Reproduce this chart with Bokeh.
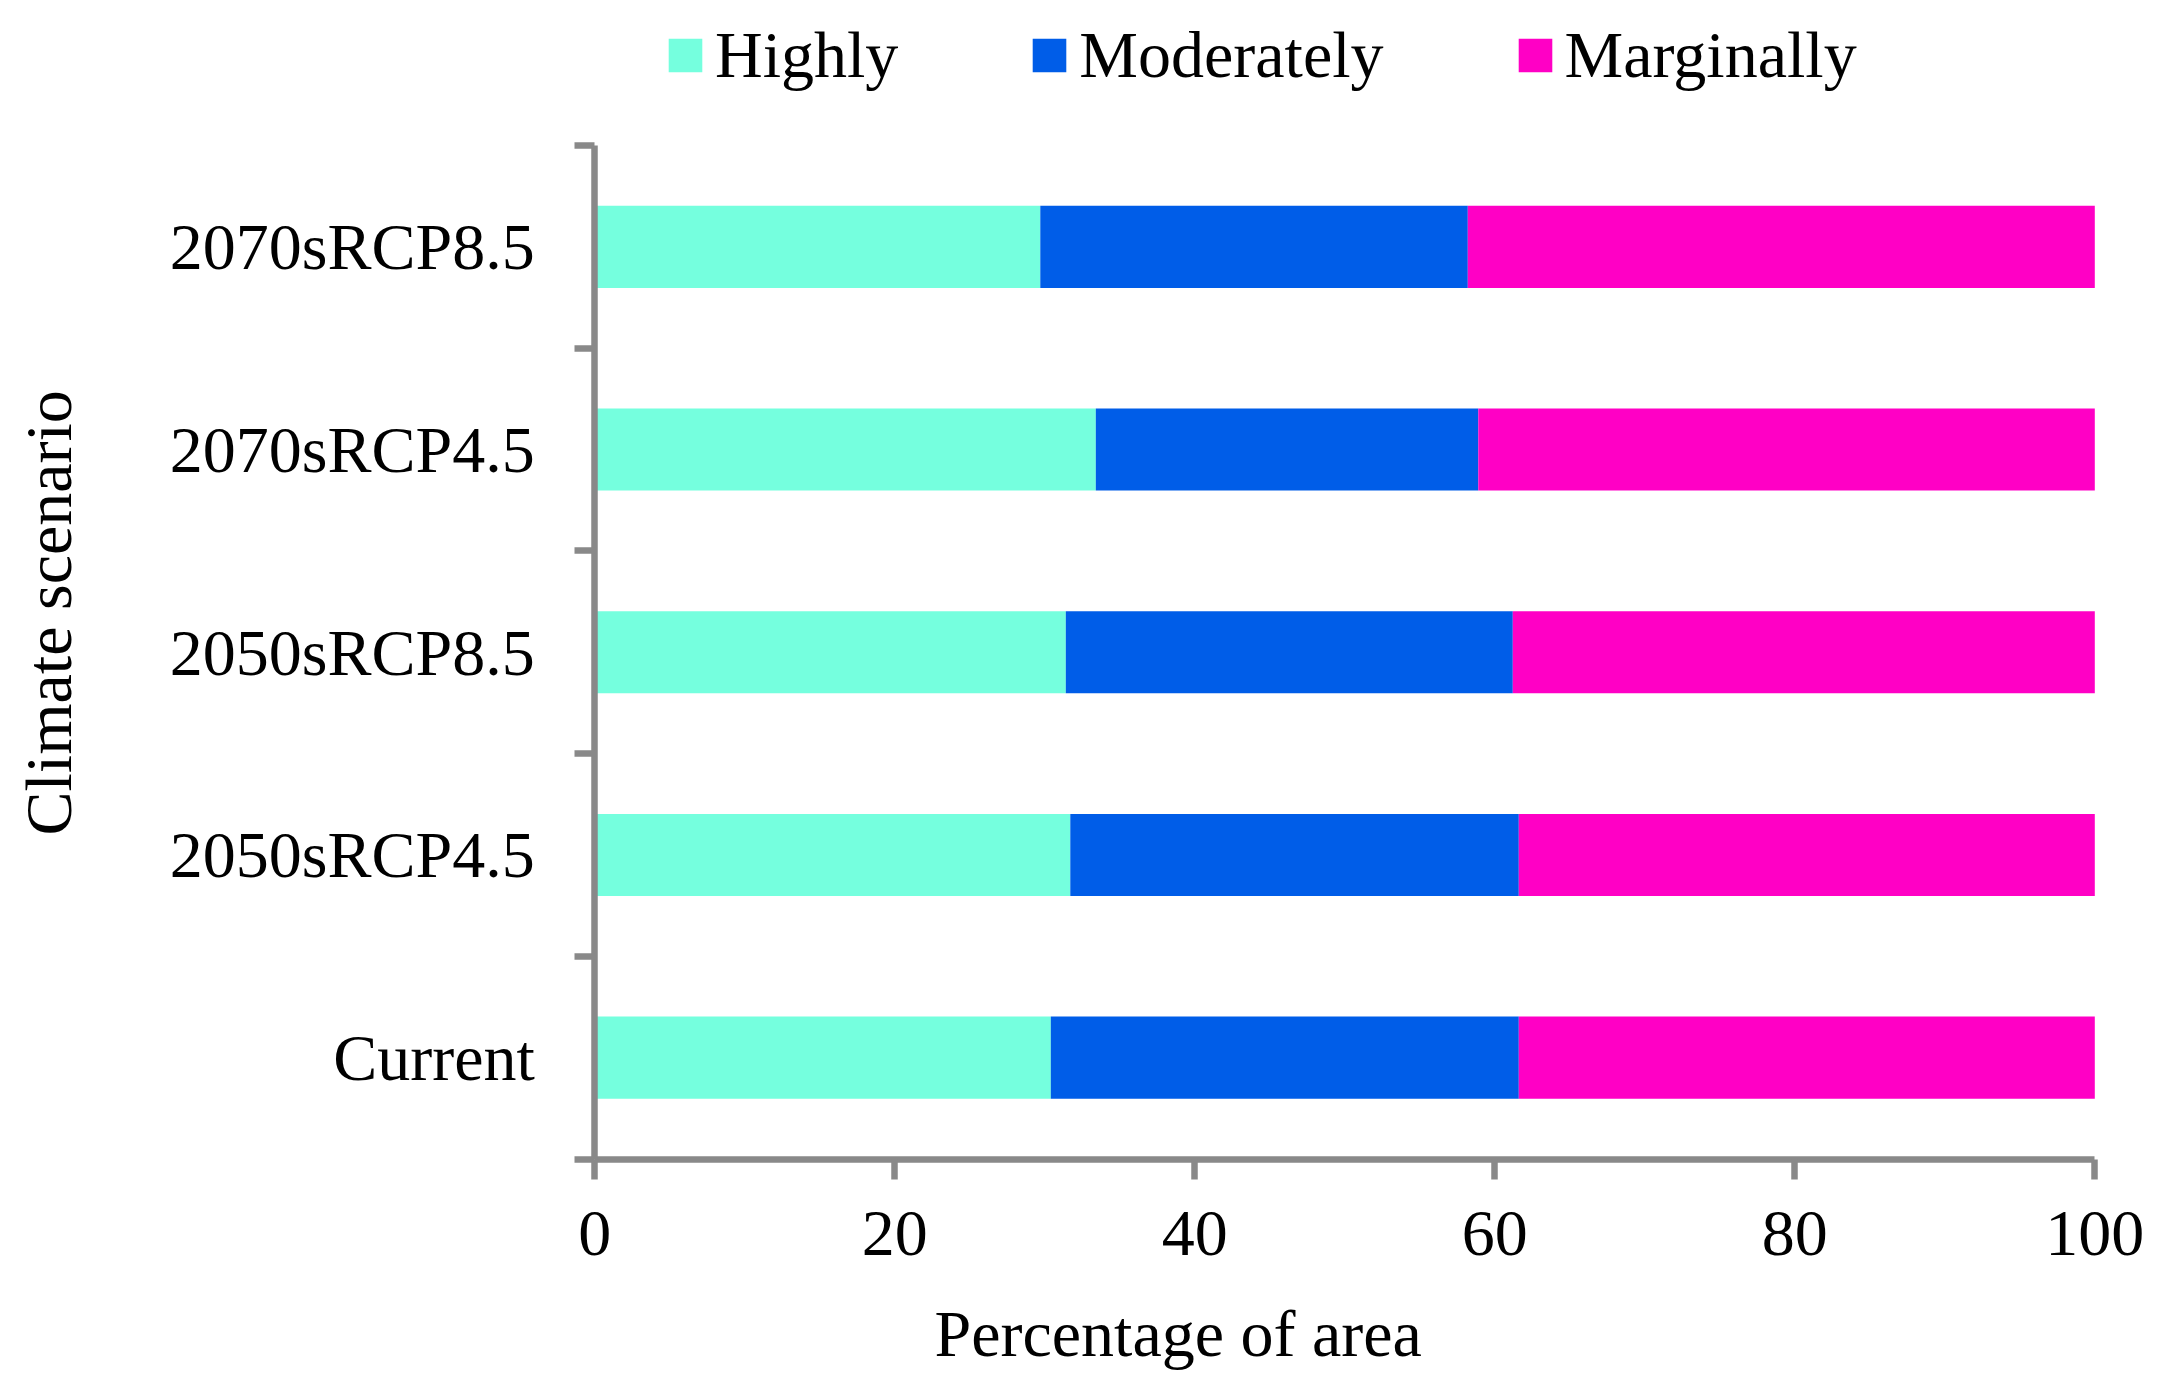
import math
from bokeh.plotting import figure
from bokeh.models import ColumnDataSource, FixedTicker, Legend, LegendItem, Label, Range1d
from bokeh.embed import file_html
from bokeh.resources import INLINE

# ---------------- data ----------------
categories = ["Current", "2050sRCP4.5", "2050sRCP8.5", "2070sRCP4.5", "2070sRCP8.5"]
highly = [30.4, 31.7, 31.4, 33.4, 29.7]
moderately = [31.2, 29.9, 29.8, 25.5, 28.5]
marginally = [38.4, 38.4, 38.8, 41.1, 41.8]
series_names = ["Highly", "Moderately", "Marginally"]
x_ticks = [0, 20, 40, 60, 80, 100]
x_title = "Percentage of area"
y_title = "Climate scenario"

# ---------------- style / layout ----------------
colors = ["#75FFDE", "#005DE8", "#FF00C5"]
FONT = "Liberation Serif"
FS = "66px"
AXIS_COLOR = "#898989"

CANVAS_W, CANVAS_H = 2150, 1390
X0_PX, X100_PX = 594.3, 2094.3        # pixel columns of x = 0 and x = 100
YTOP_PX, YBOT_PX = 145.0, 1158.5      # pixel rows of the top and bottom category boundaries
X_MAX = 100.0
N = len(categories)

sx = (X100_PX - X0_PX) / X_MAX
sy = (YBOT_PX - YTOP_PX) / N
x_start = -X0_PX / sx
x_end = X_MAX + (CANVAS_W - X100_PX) / sx
y_start = -(CANVAS_H - YBOT_PX) / sy
y_end = N + YTOP_PX / sy


def data_x(px):
    return x_start + px / sx


def data_y(py):
    return y_end - py / sy


ypos = [i + 0.5 for i in range(N)]
bounds = list(range(N + 1))
source = ColumnDataSource(dict(y=ypos, Highly=highly, Moderately=moderately, Marginally=marginally))

p = figure(output_backend="svg", toolbar_location=None,
           frame_width=CANVAS_W, frame_height=CANVAS_H,
           x_range=Range1d(x_start, x_end), y_range=Range1d(y_start, y_end),
           min_border_left=0, min_border_top=0, min_border_right=0, min_border_bottom=0)
p.title.visible = False
p.outline_line_color = None
p.xgrid.visible = False
p.ygrid.visible = False
p.background_fill_color = "white"
p.border_fill_color = "white"

renderers = p.hbar_stack(series_names, y="y", height=0.405, source=source,
                         fill_color=colors, line_color=None)

# ---------------- y axis ----------------
yax = p.yaxis[0]
yax.fixed_location = 0
yax.bounds = (0, N)
yax.ticker = FixedTicker(ticks=ypos, minor_ticks=bounds)
yax.major_label_overrides = {y: c for y, c in zip(ypos, categories)}
yax.major_tick_out = 0
yax.major_tick_in = 0
yax.minor_tick_out = 20
yax.minor_tick_in = 0
yax.minor_tick_line_width = 6.5
yax.minor_tick_line_color = AXIS_COLOR
yax.axis_line_width = 6.5
yax.axis_line_color = AXIS_COLOR
yax.major_label_standoff = 40
yax.major_label_text_font = FONT
yax.major_label_text_font_size = FS
yax.major_label_text_color = "black"

# ---------------- x axis ----------------
xax = p.xaxis[0]
xax.fixed_location = 0
xax.bounds = (0, X_MAX)
xax.ticker = FixedTicker(ticks=x_ticks, minor_ticks=[])
xax.major_tick_out = 20
xax.major_tick_in = 0
xax.major_tick_line_width = 6.5
xax.major_tick_line_color = AXIS_COLOR
xax.axis_line_width = 6.5
xax.axis_line_color = AXIS_COLOR
xax.major_label_standoff = 33
xax.major_label_text_font = FONT
xax.major_label_text_font_size = FS
xax.major_label_text_color = "black"

# ---------------- axis titles ----------------
p.add_layout(Label(x=data_x(47.5), y=data_y(835), text=y_title, angle=math.pi / 2,
                   text_align="left", text_baseline="alphabetic",
                   text_font=FONT, text_font_size=FS, text_color="black"))
p.add_layout(Label(x=data_x(934), y=data_y(1333), text=x_title,
                   text_align="left", text_baseline="alphabetic",
                   text_font=FONT, text_font_size=FS, text_color="black"))

# ---------------- legend ----------------
legend = Legend(items=[LegendItem(label=n, renderers=[r]) for n, r in zip(series_names, renderers)],
                location=(664, CANVAS_H - 92.5), orientation="horizontal",
                glyph_width=42, glyph_height=42, label_height=34,
                label_standoff=9, padding=0, margin=0, spacing=130,
                border_line_color=None, background_fill_alpha=0,
                label_text_font=FONT, label_text_font_size=FS, label_text_color="black")
p.add_layout(legend, "center")

open("out.html", "w").write(file_html(p, INLINE))
